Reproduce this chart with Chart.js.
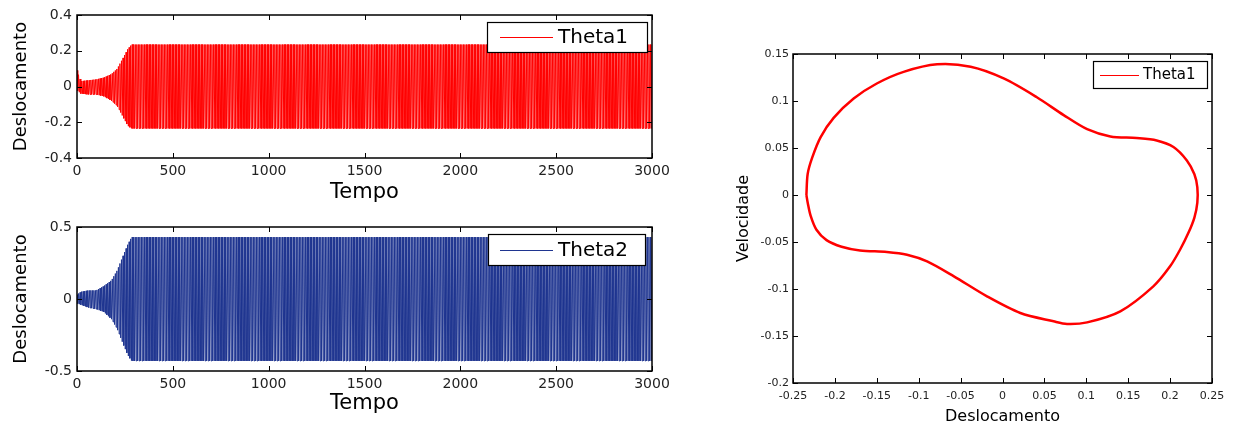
<!DOCTYPE html>
<html>
<head>
<meta charset="utf-8">
<script src="https://cdn.jsdelivr.net/npm/chart.js@4.4.1/dist/chart.umd.min.js"></script>
<style>
    html, body { margin: 0; padding: 0; background: #fff; overflow: hidden; }
    body { width: 1236px; height: 423px; position: relative; }
    .panel { position: absolute; }
</style>
</head>
<body>
<div class="panel" style="left:0;top:0;width:700px;height:205px"><canvas id="theta1Chart"></canvas></div>
<div class="panel" style="left:0;top:210px;width:700px;height:213px"><canvas id="theta2Chart"></canvas></div>
<div class="panel" style="left:720px;top:0;width:516px;height:430px"><canvas id="phaseChart"></canvas></div>
<script>
// envelope of the oscillation (peak values at these times)
const timeKnots = [0, 20, 60, 100, 140, 180, 210, 240, 265, 285, 3000]
const theta1Upper = [0.09, 0.03, 0.035, 0.04, 0.05, 0.07, 0.1, 0.16, 0.21, 0.235, 0.235]
const theta1Lower = [-0.02, -0.04, -0.045, -0.045, -0.055, -0.08, -0.11, -0.17, -0.22, -0.235, -0.235]
const theta2Upper = [0.03, 0.05, 0.06, 0.06, 0.09, 0.13, 0.2, 0.3, 0.38, 0.43, 0.43]
const theta2Lower = [-0.03, -0.04, -0.06, -0.07, -0.09, -0.14, -0.21, -0.31, -0.39, -0.43, -0.43]
const halfPeriod = 4
const timeEnd = 3000

// phase portrait (limit cycle) of Theta1, clockwise from the leftmost point
const phaseDispl = [-0.234, -0.2325, -0.227, -0.217, -0.2015, -0.1776, -0.150, -0.118, -0.078, -0.038, 0.0014, 0.041, 0.073, 0.101, 0.1287, 0.160, 0.184, 0.204, 0.220, 0.229, 0.2325, 0.2325,
    0.229, 0.222, 0.212, 0.200, 0.180, 0.1406, 0.101, 0.077, 0.061, 0.0213, -0.0185, -0.058, -0.090, -0.114, -0.138, -0.170, -0.192, -0.210, -0.222, -0.229, -0.2325, -0.234]
const phaseVel = [0, 0.0224, 0.040, 0.0616, 0.082, 0.1026, 0.1186, 0.131, 0.139, 0.1364, 0.124, 0.104, 0.085, 0.070, 0.0623, 0.0606, 0.058, 0.051, 0.0367, 0.022, 0.008, -0.008,
    -0.024, -0.040, -0.058, -0.0759, -0.0972, -0.1238, -0.1355, -0.1372, -0.1344, -0.1255, -0.1078, -0.0865, -0.0706, -0.0635, -0.0606, -0.059, -0.055, -0.048, -0.037, -0.022, -0.008, 0]

const red = "#ff0000"
const blue = "#1f3590"
const font = "'DejaVu Sans', sans-serif"

const envelopeAt = (vals, t) => {
    for (let i = 1; i < timeKnots.length; i++) {
        if (t <= timeKnots[i]) {
            const f = (t - timeKnots[i - 1]) / (timeKnots[i] - timeKnots[i - 1])
            return vals[i - 1] + f * (vals[i] - vals[i - 1])
        }
    }
    return vals[vals.length - 1]
}

const oscillation = (upper, lower) => {
    const pts = []
    for (let k = 0; k * halfPeriod <= timeEnd; k++) {
        const t = k * halfPeriod
        pts.push({ x: t, y: k % 2 === 0 ? envelopeAt(upper, t) : envelopeAt(lower, t) })
    }
    return pts
}

const fmt = (v) => String(Number(v.toFixed(3)))

const framePlugin = {
    id: "frame",
    afterDatasetsDraw(chart, args, opts) {
        const { ctx, chartArea: a } = chart
        const xs = chart.scales.x
        const ys = chart.scales.y
        ctx.save()
        ctx.strokeStyle = "#000"
        ctx.lineWidth = 1
        ctx.beginPath()
        xs.ticks.forEach((t) => {
            const px = Math.round(xs.getPixelForValue(t.value)) + 0.5
            ctx.moveTo(px, a.bottom)
            ctx.lineTo(px, a.bottom - opts.tickLength)
            ctx.moveTo(px, a.top)
            ctx.lineTo(px, a.top + opts.tickLength)
        })
        ys.ticks.forEach((t) => {
            const py = Math.round(ys.getPixelForValue(t.value)) + 0.5
            ctx.moveTo(a.left, py)
            ctx.lineTo(a.left + opts.tickLength, py)
            ctx.moveTo(a.right, py)
            ctx.lineTo(a.right - opts.tickLength, py)
        })
        ctx.stroke()
        ctx.lineWidth = 1.5
        ctx.strokeRect(a.left, a.top, a.right - a.left, a.bottom - a.top)

        const lg = opts.legend
        const bx = a.right - lg.right - lg.width
        const by = a.top + lg.top
        ctx.fillStyle = "#fff"
        ctx.fillRect(bx, by, lg.width, lg.height)
        ctx.lineWidth = 1.2
        ctx.strokeStyle = "#000"
        ctx.strokeRect(bx + 0.5, by + 0.5, lg.width, lg.height)
        ctx.strokeStyle = lg.color
        ctx.lineWidth = 1
        ctx.beginPath()
        ctx.moveTo(bx + lg.lineStart, Math.round(by + lg.height / 2) + 0.5)
        ctx.lineTo(bx + lg.lineEnd, Math.round(by + lg.height / 2) + 0.5)
        ctx.stroke()
        ctx.fillStyle = "#000"
        ctx.font = `${lg.fontSize}px ${font}`
        ctx.textBaseline = "middle"
        ctx.fillText(lg.text, bx + lg.textX, by + lg.height / 2 + 1)
        ctx.restore()
    },
}

const makeTimeChart = (id, label, color, upper, lower, yRange, geo, legend) => {
    new Chart(document.getElementById(id), {
        type: "line",
        data: {
            datasets: [{
                label: label,
                data: oscillation(upper, lower),
                borderColor: color,
                borderWidth: 1,
                pointRadius: 0,
                tension: 0,
            }],
        },
        options: {
            responsive: true,
            maintainAspectRatio: false,
            animation: false,
            events: [],
            layout: { padding: { top: geo.top, right: 48, left: 0, bottom: 0 } },
            plugins: {
                legend: { display: false },
                tooltip: { enabled: false },
                frame: { tickLength: 5, legend: legend },
            },
            scales: {
                x: {
                    type: "linear",
                    min: 0,
                    max: 3000,
                    afterFit: (s) => { s.height = geo.xHeight },
                    grid: { display: false, drawTicks: false },
                    border: { display: false },
                    ticks: { stepSize: 500, color: "#222", padding: 5, maxRotation: 0, autoSkip: false, callback: fmt, font: { family: font, size: 14 } },
                    title: { display: true, text: "Tempo", color: "#000", padding: { top: 0, bottom: geo.titlePad }, font: { family: font, size: 21 } },
                },
                y: {
                    min: yRange[0],
                    max: yRange[1],
                    afterFit: (s) => { s.width = 77 },
                    grid: { display: false, drawTicks: false },
                    border: { display: false },
                    ticks: { stepSize: yRange[2], color: "#222", padding: 5, callback: fmt, font: { family: font, size: 14 } },
                    title: { display: true, text: "Deslocamento", color: "#000", padding: { top: 11, bottom: 0 }, font: { family: font, size: 18 } },
                },
            },
        },
        plugins: [framePlugin],
    })
}

makeTimeChart("theta1Chart", "Theta1", red, theta1Upper, theta1Lower, [-0.4, 0.4, 0.2],
    { top: 15, xHeight: 47, titlePad: 0 },
    { text: "Theta1", color: red, width: 160, height: 30, right: 5, top: 7, lineStart: 13, lineEnd: 66, textX: 71, fontSize: 20 })

makeTimeChart("theta2Chart", "Theta2", blue, theta2Upper, theta2Lower, [-0.5, 0.5, 0.5],
    { top: 17, xHeight: 52, titlePad: 7 },
    { text: "Theta2", color: blue, width: 157, height: 31, right: 7, top: 7, lineStart: 12, lineEnd: 65, textX: 70, fontSize: 20 })

new Chart(document.getElementById("phaseChart"), {
    type: "scatter",
    data: {
        datasets: [{
            label: "Theta1",
            data: phaseDispl.map((d, i) => ({ x: d, y: phaseVel[i] })),
            showLine: true,
            borderColor: red,
            borderWidth: 2.5,
            pointRadius: 0,
            tension: 0.3,
        }],
    },
    options: {
        responsive: true,
        maintainAspectRatio: false,
        animation: false,
        events: [],
        layout: { padding: { top: 54, right: 24, left: 0, bottom: 0 } },
        plugins: {
            legend: { display: false },
            tooltip: { enabled: false },
            frame: {
                tickLength: 5,
                legend: { text: "Theta1", color: red, width: 114, height: 27, right: 5, top: 7, lineStart: 7, lineEnd: 46, textX: 50, fontSize: 15 },
            },
        },
        scales: {
            x: {
                type: "linear",
                min: -0.25,
                max: 0.25,
                afterFit: (s) => { s.height = 47 },
                grid: { display: false, drawTicks: false },
                border: { display: false },
                ticks: { stepSize: 0.05, color: "#222", padding: 7, maxRotation: 0, autoSkip: false, callback: fmt, font: { family: font, size: 11 } },
                title: { display: true, text: "Deslocamento", color: "#000", padding: { top: 0, bottom: 4 }, font: { family: font, size: 16 } },
            },
            y: {
                min: -0.2,
                max: 0.15,
                afterFit: (s) => { s.width = 73 },
                grid: { display: false, drawTicks: false },
                border: { display: false },
                ticks: { stepSize: 0.05, color: "#222", padding: 4, callback: fmt, font: { family: font, size: 11 } },
                title: { display: true, text: "Velocidade", color: "#000", padding: { top: 14, bottom: 0 }, font: { family: font, size: 16 } },
            },
        },
    },
    plugins: [framePlugin],
})
</script>
</body>
</html>
